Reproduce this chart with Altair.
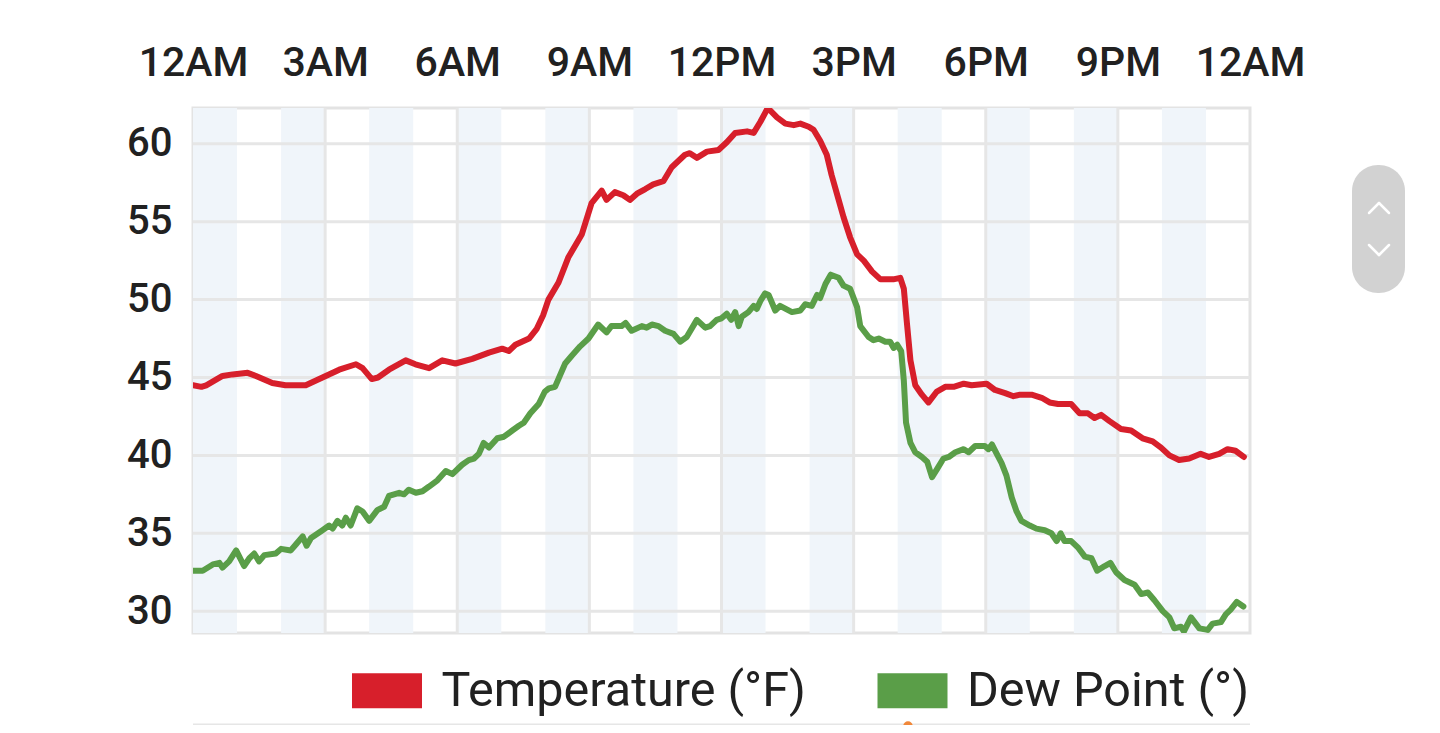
import json
import altair as alt
import pandas as pd

# ---------------- data ----------------
HOUR_TICKS = [0, 3, 6, 9, 12, 15, 18, 21, 24]
HOUR_LABELS = ["12AM", "3AM", "6AM", "9AM", "12PM", "3PM", "6PM", "9PM", "12AM"]
Y_TICKS = [30, 35, 40, 45, 50, 55, 60]
BAND_STARTS = [0, 2, 4, 6, 8, 10, 12, 14, 16, 18, 20, 22]
SERIES = ["Temperature (°F)", "Dew Point (°)"]
COLORS = ["#d71f2b", "#5a9e48"]

temp_hours = [0.0, 0.19, 0.3, 0.67, 0.9, 1.24, 1.43, 1.8, 2.1, 2.56, 2.94, 3.32, 3.7, 3.85,
              4.06, 4.2, 4.45, 4.83, 5.05, 5.36, 5.66, 5.96, 6.34, 6.72, 7.02, 7.17, 7.32,
              7.63, 7.8, 7.95, 8.07, 8.3, 8.52, 8.83, 9.05, 9.28, 9.39, 9.58, 9.77, 9.92,
              10.08, 10.27, 10.45, 10.68, 10.87, 11.17, 11.28, 11.44, 11.67, 11.93, 12.12,
              12.31, 12.58, 12.73, 12.88, 13.05, 13.26, 13.45, 13.64, 13.79, 13.98, 14.09,
              14.24, 14.39, 14.5, 14.66, 14.77, 14.92, 15.08, 15.23, 15.42, 15.61, 15.8,
              15.9, 16.06, 16.14, 16.21, 16.29, 16.4, 16.55, 16.7, 16.89, 17.08, 17.27,
              17.5, 17.68, 18.02, 18.21, 18.44, 18.63, 18.78, 19.04, 19.27, 19.45, 19.64,
              19.94, 20.13, 20.32, 20.47, 20.62, 20.81, 21.07, 21.3, 21.56, 21.79, 21.98,
              22.17, 22.39, 22.62, 22.88, 23.07, 23.3, 23.49, 23.67, 23.86]
temp_vals = [44.5, 44.4, 44.5, 45.1, 45.2, 45.3, 45.1, 44.65, 44.5, 44.5, 45.0, 45.5, 45.85,
             45.6, 44.9, 45.0, 45.5, 46.1, 45.85, 45.6, 46.1, 45.9, 46.2, 46.6, 46.85, 46.7,
             47.1, 47.5, 48.1, 49.0, 50.0, 51.1, 52.7, 54.2, 56.2, 57.0, 56.4, 56.9, 56.7,
             56.4, 56.8, 57.1, 57.4, 57.6, 58.5, 59.3, 59.4, 59.1, 59.5, 59.6, 60.1, 60.7,
             60.8, 60.7, 61.4, 62.3, 61.7, 61.3, 61.2, 61.3, 61.1, 60.9, 60.2, 59.3, 58.0,
             56.4, 55.3, 54.0, 52.9, 52.5, 51.8, 51.3, 51.3, 51.3, 51.4, 50.7, 48.5, 46.1,
             44.5, 43.9, 43.4, 44.1, 44.4, 44.4, 44.6, 44.5, 44.6, 44.2, 44.0, 43.8, 43.9,
             43.9, 43.7, 43.4, 43.3, 43.3, 42.7, 42.7, 42.4, 42.6, 42.2, 41.7, 41.6, 41.1,
             40.9, 40.5, 40.0, 39.7, 39.8, 40.1, 39.9, 40.1, 40.4, 40.3, 39.9]

dew_hours = [0.0, 0.22, 0.45, 0.6, 0.67, 0.82, 0.98, 1.16, 1.28, 1.39, 1.5, 1.62, 1.88, 2.0,
             2.22, 2.34, 2.49, 2.58, 2.68, 2.94, 3.09, 3.17, 3.28, 3.39, 3.47, 3.58, 3.73,
             3.85, 4.0, 4.19, 4.34, 4.45, 4.68, 4.79, 4.9, 5.06, 5.21, 5.36, 5.55, 5.74,
             5.89, 6.11, 6.26, 6.38, 6.49, 6.6, 6.72, 6.91, 7.06, 7.25, 7.4, 7.51, 7.66,
             7.85, 7.99, 8.08, 8.22, 8.45, 8.6, 8.79, 8.98, 9.2, 9.39, 9.5, 9.73, 9.82,
             9.96, 10.19, 10.3, 10.42, 10.57, 10.72, 10.91, 11.06, 11.21, 11.44, 11.63,
             11.74, 11.89, 12.0, 12.12, 12.22, 12.31, 12.39, 12.46, 12.61, 12.73, 12.8,
             12.88, 12.99, 13.07, 13.22, 13.33, 13.6, 13.79, 13.9, 14.05, 14.17, 14.24,
             14.36, 14.48, 14.66, 14.77, 14.92, 15.08, 15.15, 15.34, 15.45, 15.57, 15.72,
             15.83, 15.91, 15.99, 16.08, 16.14, 16.19, 16.29, 16.4, 16.55, 16.67, 16.78,
             16.89, 17.04, 17.16, 17.31, 17.5, 17.61, 17.76, 17.98, 18.06, 18.14, 18.25,
             18.36, 18.47, 18.59, 18.7, 18.81, 19.0, 19.15, 19.34, 19.49, 19.61, 19.7,
             19.79, 19.94, 20.09, 20.25, 20.4, 20.53, 20.7, 20.83, 20.96, 21.15, 21.38,
             21.53, 21.68, 21.83, 22.02, 22.17, 22.28, 22.43, 22.5, 22.66, 22.85, 23.04,
             23.15, 23.34, 23.45, 23.56, 23.7, 23.85]
dew_vals = [32.6, 32.6, 33.0, 33.1, 32.8, 33.2, 33.9, 32.9, 33.4, 33.7, 33.2, 33.6, 33.7,
            34.0, 33.9, 34.3, 34.8, 34.2, 34.7, 35.2, 35.5, 35.3, 35.8, 35.5, 36.0, 35.5,
            36.6, 36.4, 35.8, 36.5, 36.7, 37.4, 37.6, 37.5, 37.8, 37.6, 37.7, 38.0, 38.4,
            39.0, 38.8, 39.4, 39.7, 39.8, 40.1, 40.8, 40.5, 41.1, 41.2, 41.6, 41.9, 42.1,
            42.7, 43.3, 44.1, 44.3, 44.4, 45.9, 46.4, 47.0, 47.5, 48.4, 47.9, 48.3, 48.3,
            48.5, 48.0, 48.3, 48.2, 48.4, 48.3, 48.0, 47.8, 47.3, 47.6, 48.7, 48.2, 48.3,
            48.7, 48.8, 49.1, 48.7, 49.2, 48.3, 48.9, 49.2, 49.6, 49.4, 49.9, 50.4, 50.3,
            49.3, 49.6, 49.2, 49.3, 49.7, 49.6, 50.3, 50.1, 51.0, 51.6, 51.4, 50.9, 50.7,
            49.5, 48.3, 47.6, 47.4, 47.5, 47.3, 47.3, 46.9, 47.1, 46.7, 44.8, 42.1, 40.8,
            40.2, 39.9, 39.6, 38.6, 39.1, 39.8, 39.9, 40.2, 40.4, 40.2, 40.6, 40.6, 40.4,
            40.7, 40.1, 39.5, 38.7, 37.3, 36.4, 35.8, 35.5, 35.3, 35.2, 35.0, 34.5, 35.0,
            34.5, 34.5, 34.1, 33.5, 33.4, 32.6, 32.9, 33.1, 32.5, 32.0, 31.7, 31.1, 31.2,
            30.7, 30.0, 29.6, 28.9, 29.0, 28.7, 29.6, 28.9, 28.8, 29.2, 29.3, 29.8, 30.1,
            30.6, 30.3]

# ---------------- tables ----------------
lines_df = pd.concat([
    pd.DataFrame({"series": SERIES[0], "hour": temp_hours, "value": temp_vals, "order": range(len(temp_hours))}),
    pd.DataFrame({"series": SERIES[1], "hour": dew_hours, "value": dew_vals, "order": range(len(dew_hours))}),
])
bands_df = pd.DataFrame({"start": BAND_STARTS, "end": [b + 1 for b in BAND_STARTS]})
xgrid_df = pd.DataFrame({"hour": HOUR_TICKS[1:-1]})
ygrid_df = pd.DataFrame({"value": Y_TICKS})

FONT = "Roboto"
TEXT = "#212121"
GRID = "#e6e6e6"

x_scale = alt.Scale(domain=[0, 24], nice=False, zero=False)
y_scale = alt.Scale(domain=[28.6, 62.3], nice=False, zero=False)

label_expr = json.dumps(HOUR_LABELS) + "[round(datum.value / 3)]"

bands = alt.Chart(bands_df).mark_rect(color="#f0f5fa").encode(
    x=alt.X("start:Q", scale=x_scale,
            axis=alt.Axis(orient="top", values=HOUR_TICKS, labelExpr=label_expr, title=None,
                          grid=False, domain=False, ticks=False,
                          labelFont=FONT, labelFontSize=41, labelFontWeight=500,
                          labelColor=TEXT, labelPadding=24, labelFlush=False, labelBound=False,
                          labelOverlap=False)),
    x2="end:Q",
)

xgrid = alt.Chart(xgrid_df).mark_rule(color=GRID, strokeWidth=3).encode(
    x=alt.X("hour:Q", scale=x_scale))

ygrid = alt.Chart(ygrid_df).mark_rule(color=GRID, strokeWidth=3).encode(
    y=alt.Y("value:Q", scale=y_scale,
            axis=alt.Axis(values=Y_TICKS, title=None, grid=False,
                          domain=False, ticks=False, labelFont=FONT, labelFontSize=40,
                          labelFontWeight=500, labelColor=TEXT, labelPadding=21)))

lines = alt.Chart(lines_df).mark_line(strokeJoin="round", strokeCap="round",
                                      clip=True).encode(
    x=alt.X("hour:Q", scale=x_scale),
    y=alt.Y("value:Q", scale=y_scale),
    order="order:Q",
    strokeWidth=alt.value(6),
    color=alt.Color("series:N", sort=SERIES,
                    scale=alt.Scale(domain=SERIES, range=COLORS),
                    legend=alt.Legend(
                        orient="none", legendX=141.5, legendY=530, direction="horizontal",
                        title=None, symbolType="M-1,0H1", symbolSize=4900,
                        symbolStrokeWidth=35, labelFont=FONT, labelFontSize=48.5,
                        labelColor=TEXT, labelOffset=2, columnPadding=0.5, padding=0,
                        labelLimit=1000)),
)

# decorative page widgets (scroll control at right, next chart's top edge below)
one = alt.Data(values=[{}])
scroll_box = alt.Chart(one).mark_rect(color="#d2d2d2", cornerRadius=26).encode(
    x=alt.value(1159), x2=alt.value(1212), y=alt.value(57), y2=alt.value(185))
chev = []
for (x1, y1, x2, y2) in [(1176, 105, 1186, 95), (1186, 95, 1196, 105),
                         (1176, 137, 1186, 147), (1186, 147, 1196, 137)]:
    chev.append(alt.Chart(one).mark_rule(color="white", strokeWidth=2.5, strokeCap="round").encode(
        x=alt.value(x1), y=alt.value(y1), x2=alt.value(x2), y2=alt.value(y2)))
next_edge = alt.Chart(one).mark_rule(color="#e6e6e6", strokeWidth=3).encode(
    x=alt.value(0), x2=alt.value(1057), y=alt.value(617))
dot = alt.Chart(one).mark_circle(color="#f0883a", size=90, opacity=1).encode(
    x=alt.value(715), y=alt.value(618))

chart = alt.layer(bands, xgrid, ygrid, lines, scroll_box, *chev, next_edge, dot).properties(
    width=1057, height=525,
    autosize=alt.AutoSizeParams(type="none"),
    padding={"left": 185, "top": 100, "right": 182, "bottom": 92},
    background="white",
).configure_view(stroke="#e3e3e3", strokeWidth=3)

chart.save("out.html", embed_options={"renderer": "svg", "actions": False})
